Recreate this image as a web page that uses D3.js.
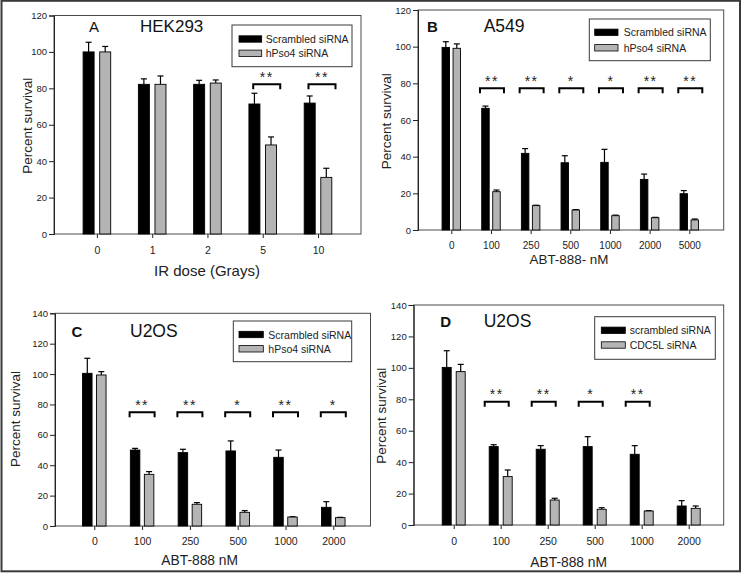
<!DOCTYPE html>
<html><head><meta charset="utf-8">
<script src="https://cdn.jsdelivr.net/npm/d3@7"></script>
<style>
body{margin:0;background:#fff;}
svg{display:block;font-family:"Liberation Sans",Arial,sans-serif;}
</style></head>
<body><svg id="c" width="745" height="573"></svg>
<script>
// ---------- DATA ----------
const seriesNames = ["Scrambled siRNA", "hPso4 siRNA"];
const seriesNamesD = ["scrambled siRNA", "CDC5L siRNA"];

const catsA = ["0", "1", "2", "5", "10"];
const scrA = [100, 82.2, 82.2, 71.4, 71.9];
const scrErrA = [5.3, 3.0, 2.2, 5.9, 3.9];
const siA = [100, 82.2, 82.9, 48.9, 31.1];
const siErrA = [3.0, 4.6, 1.7, 4.4, 5.0];
const sigA = ["", "", "", "**", "**"];

const catsB = ["0", "100", "250", "500", "1000", "2000", "5000"];
const scrB = [99.6, 66.4, 41.8, 36.7, 36.9, 27.6, 19.8];
const scrErrB = [3.1, 1.2, 2.6, 3.8, 7.1, 2.9, 1.7];
const siB = [99.1, 20.9, 13.3, 10.9, 7.8, 6.7, 5.5];
const siErrB = [2.4, 0.9, 0.2, 0.2, 0.3, 0.2, 0.5];
const sigB = ["", "**", "**", "*", "*", "**", "**"];

const catsC = ["0", "100", "250", "500", "1000", "2000"];
const scrC = [100.5, 50.0, 48.3, 49.4, 45.2, 12.3];
const scrErrC = [9.9, 1.1, 2.2, 6.6, 4.8, 3.7];
const siC = [99.4, 34.0, 14.3, 9.0, 5.9, 5.5];
const siErrC = [2.2, 1.8, 1.1, 1.1, 0.2, 0.2];
const sigC = ["", "**", "**", "*", "**", "*"];

const catsD = ["0", "100", "250", "500", "1000", "2000"];
const scrD = [100.3, 49.9, 48.2, 49.9, 45.0, 12.1];
const scrErrD = [10.6, 1.2, 2.3, 6.3, 5.5, 3.4];
const siD = [97.6, 30.8, 15.9, 10.0, 8.9, 10.6];
const siErrD = [4.6, 4.2, 1.1, 1.0, 0.2, 1.5];
const sigD = ["", "**", "**", "*", "**", ""];

const yTicksAB = [0, 20, 40, 60, 80, 100, 120];
const yTicksCD = [0, 20, 40, 60, 80, 100, 120, 140];
const sigLevel = {A: 82.2, B: 77.3, C: 74.8, D: 78.5};

// ---------- DRAW ----------
const svg = d3.select("#c");
svg.append("rect").attr("x", 1.5).attr("y", 0.8).attr("width", 738.5).attr("height", 570.5)
  .attr("fill", "#fff").attr("stroke", "#3a3a3a").attr("stroke-width", 2);

function panel(cfg) {
  const g = svg.append("g");
  const x = d3.scalePoint().domain(cfg.cats).range(cfg.xr);
  const y = d3.scaleLinear().domain([0, cfg.ymax]).range([cfg.bottom, cfg.top]);

  // frame
  g.append("rect").attr("x", cfg.left).attr("y", cfg.top)
    .attr("width", cfg.right - cfg.left).attr("height", cfg.bottom - cfg.top)
    .attr("fill", "none").attr("stroke", "#4a4a4a").attr("stroke-width", 1);

  // y axis
  const ya = g.append("g").attr("transform", `translate(${cfg.left},0)`)
    .call(d3.axisLeft(y).tickValues(cfg.yticks).tickSize(5).tickPadding(2));
  ya.select(".domain").attr("stroke", "#222");
  ya.selectAll(".tick line").attr("stroke", "#222");
  ya.selectAll("text").attr("font-size", 9.5).attr("fill", "#222")
    .attr("font-family", "Liberation Sans, Arial, sans-serif");

  // x axis
  const xa = g.append("g").attr("transform", `translate(0,${cfg.bottom})`)
    .call(d3.axisBottom(x).tickSize(4).tickPadding(cfg.xpad));
  xa.select(".domain").remove();
  xa.selectAll(".tick line").attr("stroke", "#222");
  xa.selectAll("text").attr("font-size", cfg.xfs).attr("fill", "#222")
    .attr("font-family", "Liberation Sans, Arial, sans-serif");

  const bw = cfg.bw, off = cfg.off;
  const series = [
    {vals: cfg.scr, err: cfg.scrErr, dx: -off, fill: "#000"},
    {vals: cfg.si, err: cfg.siErr, dx: off, fill: "#b4b4b4"}
  ];
  series.forEach(s => {
    const gs = g.append("g");
    cfg.cats.forEach((c, i) => {
      const cx = x(c) + s.dx;
      const top = y(s.vals[i]);
      const et = y(s.vals[i] + s.err[i]);
      gs.append("line").attr("x1", cx).attr("x2", cx).attr("y1", top).attr("y2", et)
        .attr("stroke", "#000").attr("stroke-width", 1.2);
      gs.append("line").attr("x1", cx - 3).attr("x2", cx + 3).attr("y1", et).attr("y2", et)
        .attr("stroke", "#000").attr("stroke-width", 1.2);
      gs.append("rect").attr("x", cx - bw / 2).attr("y", top)
        .attr("width", bw).attr("height", y(0) - top)
        .attr("fill", s.fill).attr("stroke", "#000").attr("stroke-width", 0.9);
    });
  });

  // significance brackets
  cfg.cats.forEach((c, i) => {
    const lab = cfg.sig[i];
    if (!lab) return;
    const cx = x(c) + cfg.sigOff;
    const yy = y(cfg.sigLevel);
    const h = cfg.sigHalf;
    g.append("path")
      .attr("d", `M${cx - h},${yy + 5}V${yy}H${cx + h}V${yy + 5}`)
      .attr("fill", "none").attr("stroke", "#000").attr("stroke-width", 2);
    g.append("text").attr("x", cx).attr("y", yy - 2.5).attr("text-anchor", "middle")
      .attr("font-size", 14).attr("letter-spacing", 1.5).attr("fill", "#222").text(lab);
  });

  // legend
  const L = cfg.legend;
  g.append("rect").attr("x", L.x).attr("y", L.y).attr("width", L.w).attr("height", L.h)
    .attr("fill", "#fff").attr("stroke", "#3a3a3a").attr("stroke-width", 1);
  cfg.names.forEach((n, k) => {
    const cy = L.y + L.r0 + k * L.dy;
    g.append("rect").attr("x", L.x + L.sx).attr("y", cy - 3.2).attr("width", L.sw).attr("height", 6.4)
      .attr("fill", k === 0 ? "#000" : "#b4b4b4").attr("stroke", "#000").attr("stroke-width", 0.8);
    g.append("text").attr("x", L.x + L.tx).attr("y", cy + 4).attr("font-size", 10.5)
      .attr("fill", "#222").text(n);
  });

  // panel letter and cell line
  g.append("text").attr("x", cfg.letter.x).attr("y", cfg.letter.y).attr("font-size", 15)
    .attr("font-weight", cfg.letter.bold ? "bold" : "normal").attr("fill", "#111").text(cfg.letter.t);
  g.append("text").attr("x", cfg.cell.x).attr("y", cfg.cell.y).attr("font-size", cfg.cell.fs)
    .attr("fill", "#111").text(cfg.cell.t);

  // axis titles
  g.append("text").attr("transform", `translate(${cfg.yt.x},${cfg.yt.y}) rotate(-90)`)
    .attr("text-anchor", "middle").attr("dy", "0.35em").attr("font-size", 13.5)
    .attr("fill", "#222").text("Percent survival");
  g.append("text").attr("x", cfg.xt.x).attr("y", cfg.xt.y).attr("text-anchor", "middle")
    .attr("font-size", cfg.xt.fs).attr("fill", "#222").text(cfg.xt.t);
}

panel({cats: catsA, scr: scrA, scrErr: scrErrA, si: siA, siErr: siErrA, sig: sigA, sigLevel: sigLevel.A,
  names: seriesNames, ymax: 120, yticks: yTicksAB,
  left: 54, right: 361, top: 15.5, bottom: 234, xr: [96.9, 318], bw: 11, off: 8.3,
  xpad: 8.5, xfs: 10.5, sigOff: 4, sigHalf: 13.5,
  legend: {x: 232, y: 25, w: 120, h: 41.7, r0: 14, dy: 14.3, sx: 7, sw: 22.7, tx: 33.7},
  letter: {t: "A", x: 89, y: 32, bold: false}, cell: {t: "HEK293", x: 140, y: 32, fs: 17},
  yt: {x: 27, y: 125.8}, xt: {t: "IR dose (Grays)", x: 207, y: 276, fs: 15}});

panel({cats: catsB, scr: scrB, scrErr: scrErrB, si: siB, siErr: siErrB, sig: sigB, sigLevel: sigLevel.B,
  names: seriesNames, ymax: 120, yticks: yTicksAB,
  left: 418, right: 723.7, top: 10, bottom: 230, xr: [451.3, 689.3], bw: 7.5, off: 5.5,
  xpad: 7.4, xfs: 10, sigOff: 1, sigHalf: 12,
  legend: {x: 589.3, y: 19, w: 121, h: 41.7, r0: 13.3, dy: 15.5, sx: 5.4, sw: 23.3, tx: 34.4},
  letter: {t: "B", x: 427, y: 32.3, bold: true}, cell: {t: "A549", x: 483.7, y: 32.3, fs: 17.5},
  yt: {x: 386.5, y: 121.3}, xt: {t: "ABT-888- nM", x: 569, y: 263.5, fs: 13.4}});

panel({cats: catsC, scr: scrC, scrErr: scrErrC, si: siC, siErr: siErrC, sig: sigC, sigLevel: sigLevel.C,
  names: seriesNames, ymax: 140, yticks: yTicksCD,
  left: 55, right: 370.5, top: 313.3, bottom: 526, xr: [94.3, 333.3], bw: 9.5, off: 7,
  xpad: 8, xfs: 10.5, sigOff: 0, sigHalf: 12.5,
  legend: {x: 233.3, y: 321, w: 118.4, h: 40.7, r0: 13.5, dy: 14.3, sx: 5.7, sw: 24.3, tx: 35},
  letter: {t: "C", x: 71.5, y: 337.3, bold: true}, cell: {t: "U2OS", x: 130, y: 337.3, fs: 17.5},
  yt: {x: 15.3, y: 419}, xt: {t: "ABT-888 nM", x: 199.7, y: 565, fs: 13.8}});

panel({cats: catsD, scr: scrD, scrErr: scrErrD, si: siD, siErr: siErrD, sig: sigD, sigLevel: sigLevel.D,
  names: seriesNamesD, ymax: 140, yticks: yTicksCD,
  left: 413.7, right: 723.7, top: 305, bottom: 525, xr: [453.7, 688.7], bw: 9, off: 7,
  xpad: 8.5, xfs: 10.5, sigOff: -4, sigHalf: 12,
  legend: {x: 594.7, y: 316.7, w: 120.6, h: 42.6, r0: 13.6, dy: 14.7, sx: 6.6, sw: 24, tx: 35},
  letter: {t: "D", x: 440.3, y: 327.3, bold: true}, cell: {t: "U2OS", x: 483.7, y: 327.3, fs: 17.5},
  yt: {x: 381, y: 415.7}, xt: {t: "ABT-888 nM", x: 568.7, y: 566.7, fs: 13.8}});
</script></body></html>
